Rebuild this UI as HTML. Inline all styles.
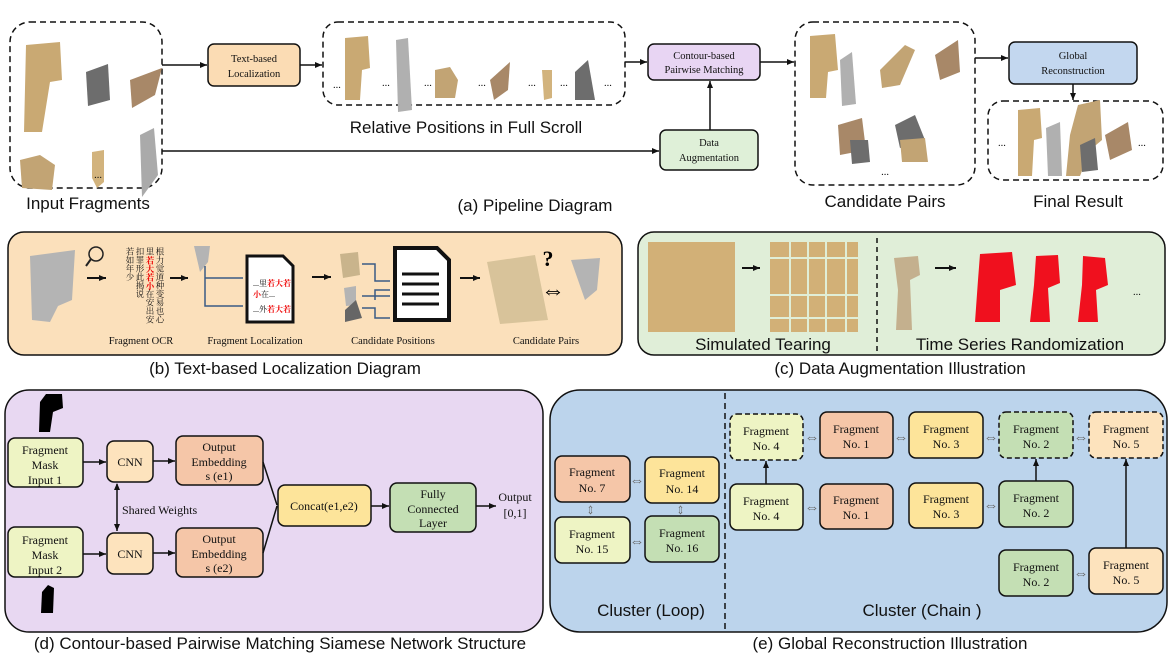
<!DOCTYPE html>
<html><head><meta charset="utf-8"><style>
html,body{margin:0;padding:0;background:#fff;}
svg{display:block;}
text{font-family:"Liberation Serif","Noto Serif CJK SC",serif;}
.cap{font-family:"Liberation Sans","Noto Sans CJK SC",sans-serif;font-size:17px;fill:#111;}
.bx{font-size:12px;fill:#111;}
.sm{font-size:10.5px;fill:#111;}
</style></head><body>
<svg width="1173" height="660" viewBox="0 0 1173 660" xmlns="http://www.w3.org/2000/svg">
<defs>
<marker id="a" markerWidth="8" markerHeight="8" refX="7" refY="4" orient="auto" markerUnits="userSpaceOnUse"><path d="M0,1 L7,4 L0,7 z" fill="#111"/></marker>
<marker id="as" markerWidth="8" markerHeight="8" refX="1" refY="4" orient="auto" markerUnits="userSpaceOnUse"><path d="M7,1 L0,4 L7,7 z" fill="#111"/></marker>
</defs>

<!-- ===== (a) Pipeline ===== -->
<rect x="10" y="22" width="152" height="166" rx="20" fill="none" stroke="#111" stroke-width="1.5" stroke-dasharray="6,4"/>
<polygon points="26,45 60,42 62,80 50,82 42,132 24,132" fill="#c9a973"/>
<polygon points="86,72 108,64 110,100 88,106" fill="#6d6d6d"/>
<polygon points="130,80 162,68 155,95 132,108" fill="#a88868"/>
<polygon points="20,160 40,155 55,165 52,190 22,188" fill="#c2a474"/>
<polygon points="92,152 104,150 104,182 97,188 92,178" fill="#d2b37d"/>
<polygon points="140,135 154,128 158,175 142,197" fill="#aaaaaa"/>
<text x="98" y="178" class="sm" text-anchor="middle">...</text>
<text x="88" y="209" class="cap" text-anchor="middle">Input Fragments</text>

<rect x="208" y="44" width="92" height="42" rx="6" fill="#fbdcb4" stroke="#111" stroke-width="1.5"/>
<text x="254" y="62" class="sm" text-anchor="middle">Text-based</text>
<text x="254" y="77" class="sm" text-anchor="middle">Localization</text>
<line x1="162" y1="65" x2="207" y2="65" stroke="#111" stroke-width="1.5" marker-end="url(#a)"/>
<line x1="300" y1="65" x2="322" y2="65" stroke="#111" stroke-width="1.5" marker-end="url(#a)"/>

<rect x="323" y="22" width="302" height="83" rx="15" fill="none" stroke="#111" stroke-width="1.5" stroke-dasharray="6,4"/>
<polygon points="345,38 368,36 370,68 362,70 360,100 345,100" fill="#c9a973"/>
<polygon points="396,40 408,38 412,110 398,112" fill="#b0b0b0"/>
<polygon points="435,70 450,67 458,80 455,98 435,98" fill="#c2a474"/>
<polygon points="490,80 510,62 508,90 494,100" fill="#a88868"/>
<polygon points="542,70 552,70 552,98 544,100" fill="#d2b37d"/>
<polygon points="575,72 588,60 595,100 575,100" fill="#6d6d6d"/>
<text x="333" y="88" class="sm">...</text><text x="382" y="86" class="sm">...</text><text x="424" y="86" class="sm">...</text><text x="478" y="86" class="sm">...</text><text x="528" y="86" class="sm">...</text><text x="560" y="86" class="sm">...</text><text x="604" y="86" class="sm">...</text>
<text x="466" y="133" class="cap" text-anchor="middle">Relative Positions in Full Scroll</text>

<line x1="625" y1="62" x2="647" y2="62" stroke="#111" stroke-width="1.5" marker-end="url(#a)"/>
<rect x="648" y="44" width="112" height="36" rx="6" fill="#e8d5f3" stroke="#111" stroke-width="1.5"/>
<text x="704" y="59" class="sm" text-anchor="middle">Contour-based</text>
<text x="704" y="73" class="sm" text-anchor="middle">Pairwise Matching</text>
<line x1="760" y1="62" x2="794" y2="62" stroke="#111" stroke-width="1.5" marker-end="url(#a)"/>

<line x1="162" y1="151" x2="659" y2="151" stroke="#111" stroke-width="1.5" marker-end="url(#a)"/>
<rect x="660" y="130" width="98" height="40" rx="6" fill="#dff0d8" stroke="#111" stroke-width="1.5"/>
<text x="709" y="146" class="sm" text-anchor="middle">Data</text>
<text x="709" y="161" class="sm" text-anchor="middle">Augmentation</text>
<line x1="710" y1="130" x2="710" y2="81" stroke="#111" stroke-width="1.5" marker-end="url(#a)"/>
<text x="535" y="211" class="cap" text-anchor="middle">(a) Pipeline Diagram</text>

<rect x="795" y="22" width="180" height="163" rx="18" fill="none" stroke="#111" stroke-width="1.5" stroke-dasharray="6,4"/>
<polygon points="810,36 835,34 838,70 828,72 826,98 810,98" fill="#c9a973"/>
<polygon points="840,60 852,52 856,104 842,106" fill="#b0b0b0"/>
<polygon points="880,70 905,45 915,50 900,85 882,88" fill="#c2a474"/>
<polygon points="935,55 958,40 960,72 940,80" fill="#a88868"/>
<polygon points="838,125 862,118 866,150 840,155" fill="#a88868"/>
<polygon points="850,140 868,140 870,162 852,164" fill="#6d6d6d"/>
<polygon points="895,125 915,115 925,140 900,148" fill="#6d6d6d"/>
<polygon points="900,140 925,138 928,162 902,162" fill="#c2a474"/>
<text x="885" y="175" class="sm" text-anchor="middle">...</text>
<text x="885" y="207" class="cap" text-anchor="middle">Candidate Pairs</text>

<line x1="975" y1="58" x2="1008" y2="58" stroke="#111" stroke-width="1.5" marker-end="url(#a)"/>
<rect x="1009" y="42" width="128" height="42" rx="6" fill="#c3d7ef" stroke="#111" stroke-width="1.5"/>
<text x="1073" y="59" class="sm" text-anchor="middle">Global</text>
<text x="1073" y="74" class="sm" text-anchor="middle">Reconstruction</text>
<line x1="1073" y1="84" x2="1073" y2="100" stroke="#111" stroke-width="1.5" marker-end="url(#a)"/>
<rect x="988" y="101" width="175" height="79" rx="15" fill="none" stroke="#111" stroke-width="1.5" stroke-dasharray="6,4"/>
<polygon points="1018,110 1040,108 1042,138 1034,140 1032,176 1018,176" fill="#c9a973"/>
<polygon points="1046,128 1060,122 1062,176 1048,176" fill="#b0b0b0"/>
<polygon points="1078,105 1100,100 1102,140 1090,150 1080,176 1066,176 1070,135" fill="#c2a474"/>
<polygon points="1080,145 1095,138 1098,170 1082,172" fill="#6d6d6d"/>
<polygon points="1105,135 1128,122 1132,150 1110,160" fill="#a88868"/>
<text x="998" y="146" class="sm">...</text><text x="1138" y="146" class="sm">...</text>
<text x="1078" y="207" class="cap" text-anchor="middle">Final Result</text>

<!-- ===== (b) ===== -->
<rect x="8" y="232" width="614" height="123" rx="16" fill="#fbe0bb" stroke="#111" stroke-width="1.5"/>
<polygon points="30,256 75,250 72,300 58,306 50,322 32,320" fill="#b4b4b4"/>
<circle cx="96" cy="254" r="7" fill="none" stroke="#222" stroke-width="1.5"/><line x1="91" y1="259" x2="86" y2="266" stroke="#222" stroke-width="2"/>
<line x1="87" y1="278" x2="106" y2="278" stroke="#111" stroke-width="2" marker-end="url(#a)"/>
<g font-size="8.5" fill="#111" font-family="'Noto Sans CJK SC',sans-serif">
<text x="160" y="247" writing-mode="tb">根力觉道种变易也心</text>
<text x="150" y="247" writing-mode="tb">里<tspan fill="#e00" font-weight="bold">若大若小</tspan>在安出安</text>
<text x="140" y="247" writing-mode="tb">扣罪形此揭说</text>
<text x="130" y="247" writing-mode="tb">若如年少</text>
</g>
<line x1="170" y1="278" x2="188" y2="278" stroke="#111" stroke-width="2" marker-end="url(#a)"/>
<polygon points="194,246 210,246 208,262 200,272" fill="#b4b4b4"/>
<path d="M205,266 V306 H243 M205,278 H243" fill="none" stroke="#3b5b85" stroke-width="1.5"/>
<path d="M247,256 H283 L293,266 V322 H247 Z" fill="#fff" stroke="#111" stroke-width="3"/>
<text x="253" y="286" font-size="8" font-family="'Noto Sans CJK SC',sans-serif">...里<tspan fill="#e00" font-weight="bold">若大若</tspan></text>
<text x="253" y="297" font-size="8" fill="#e00" font-weight="bold" font-family="'Noto Sans CJK SC',sans-serif">小<tspan fill="#111" font-weight="normal">在...</tspan></text>
<text x="253" y="312" font-size="8" font-family="'Noto Sans CJK SC',sans-serif">...外<tspan fill="#e00" font-weight="bold">若大若</tspan></text>
<line x1="312" y1="277" x2="331" y2="277" stroke="#111" stroke-width="2" marker-end="url(#a)"/>
<polygon points="340,254 358,252 360,275 343,278" fill="#c9b48c"/>
<polygon points="344,288 356,286 356,305 346,306" fill="#b4b4b4"/>
<polygon points="345,310 356,300 362,318 345,322" fill="#666"/>
<path d="M362,264 H375 V281 H390 M362,296 H390 M362,308 H375 V318 H390 M375,300 V290 H390" fill="none" stroke="#3b5b85" stroke-width="1.5"/>
<path d="M395,248 H437 L449,260 V320 H395 Z" fill="#fff" stroke="#111" stroke-width="4"/>
<line x1="402" y1="274" x2="439" y2="274" stroke="#111" stroke-width="3"/><line x1="402" y1="284" x2="439" y2="284" stroke="#111" stroke-width="3"/><line x1="402" y1="294" x2="439" y2="294" stroke="#111" stroke-width="3"/><line x1="402" y1="304" x2="439" y2="304" stroke="#111" stroke-width="3"/>
<line x1="460" y1="278" x2="480" y2="278" stroke="#111" stroke-width="2" marker-end="url(#a)"/>
<polygon points="487,262 535,255 548,320 500,324" fill="#d8c39a"/>
<text x="548" y="266" font-size="22" font-weight="bold" text-anchor="middle" font-family="'Liberation Sans',sans-serif">?</text>
<text x="553" y="298" font-size="24" text-anchor="middle" font-family="'DejaVu Sans',sans-serif">⇔</text>
<polygon points="571,260 600,258 597,290 585,300" fill="#b4b4b4"/>
<text x="141" y="344" class="sm" text-anchor="middle">Fragment OCR</text>
<text x="255" y="344" class="sm" text-anchor="middle">Fragment Localization</text>
<text x="393" y="344" class="sm" text-anchor="middle">Candidate Positions</text>
<text x="546" y="344" class="sm" text-anchor="middle">Candidate Pairs</text>
<text x="285" y="374" class="cap" text-anchor="middle">(b) Text-based Localization Diagram</text>

<!-- ===== (c) ===== -->
<rect x="638" y="232" width="527" height="123" rx="16" fill="#e0eed8" stroke="#111" stroke-width="1.5"/>
<rect x="648" y="242" width="87" height="90" fill="#d2b077"/>
<line x1="742" y1="268" x2="760" y2="268" stroke="#111" stroke-width="2" marker-end="url(#a)"/>
<rect x="770" y="242" width="88" height="90" fill="#d2b077"/>
<path d="M770,258 H858 M770,295 H858 M770,318 H858 M790,242 V332 M808,242 V332 M826,242 V332 M846,242 V332" stroke="#e0eed8" stroke-width="2" fill="none"/>
<line x1="877" y1="238" x2="877" y2="352" stroke="#111" stroke-width="1.5" stroke-dasharray="5,4"/>
<polygon points="894,258 918,256 920,275 910,280 912,330 896,330 898,290" fill="#c4b08e"/>
<line x1="935" y1="268" x2="956" y2="268" stroke="#111" stroke-width="2" marker-end="url(#a)"/>
<polygon points="980,254 1012,252 1016,285 1000,290 1000,322 975,322 978,280" fill="#f0101e"/>
<polygon points="1036,256 1058,255 1060,283 1048,288 1050,322 1030,322 1034,285" fill="#f0101e"/>
<polygon points="1083,256 1105,258 1108,285 1096,290 1098,322 1078,322 1082,285" fill="#f0101e"/>
<text x="1133" y="295" class="sm">...</text>
<text x="763" y="350" class="cap" text-anchor="middle">Simulated Tearing</text>
<text x="1020" y="350" class="cap" text-anchor="middle">Time Series Randomization</text>
<text x="900" y="374" class="cap" text-anchor="middle">(c) Data Augmentation Illustration</text>

<!-- ===== (d) ===== -->
<rect x="5" y="390" width="538" height="242" rx="24" fill="#e8d8f2" stroke="#111" stroke-width="1.5"/>
<polygon points="39,432 40,402 46,394 62,394 63,408 53,412 50,432" fill="#000"/>
<polygon points="41,613 42,592 48,585 54,588 53,613" fill="#000"/>
<g stroke="#111" stroke-width="1.5">
<rect x="8" y="438" width="75" height="49" rx="7" fill="#eef4c4"/>
<rect x="107" y="441" width="46" height="41" rx="7" fill="#fde3bd"/>
<rect x="176" y="436" width="87" height="49" rx="7" fill="#f5c6a8"/>
<rect x="8" y="527" width="75" height="50" rx="7" fill="#eef4c4"/>
<rect x="107" y="533" width="46" height="41" rx="7" fill="#fde3bd"/>
<rect x="176" y="528" width="87" height="49" rx="7" fill="#f5c6a8"/>
<rect x="278" y="485" width="93" height="41" rx="7" fill="#fde49a"/>
<rect x="390" y="483" width="86" height="49" rx="7" fill="#c4dfb4"/>
<line x1="83" y1="462" x2="106" y2="462" marker-end="url(#a)"/>
<line x1="153" y1="461" x2="175" y2="461" marker-end="url(#a)"/>
<line x1="83" y1="554" x2="106" y2="554" marker-end="url(#a)"/>
<line x1="153" y1="553" x2="175" y2="553" marker-end="url(#a)"/>
<line x1="263" y1="462" x2="277" y2="505"/>
<line x1="263" y1="553" x2="277" y2="506"/>
<line x1="371" y1="506" x2="389" y2="506" marker-end="url(#a)"/>
<line x1="476" y1="506" x2="496" y2="506" marker-end="url(#a)"/>
<line x1="117" y1="484" x2="117" y2="531" marker-end="url(#a)" marker-start="url(#as)"/>
</g>
<g text-anchor="middle">
<text x="45" y="454" class="bx">Fragment</text><text x="45" y="469" class="bx">Mask</text><text x="45" y="484" class="bx">Input 1</text>
<text x="45" y="544" class="bx">Fragment</text><text x="45" y="559" class="bx">Mask</text><text x="45" y="574" class="bx">Input 2</text>
<text x="130" y="466" class="bx">CNN</text><text x="130" y="558" class="bx">CNN</text>
<text x="219" y="451" class="bx">Output</text><text x="219" y="466" class="bx">Embedding</text><text x="219" y="480" class="bx">s (e1)</text>
<text x="219" y="543" class="bx">Output</text><text x="219" y="558" class="bx">Embedding</text><text x="219" y="572" class="bx">s (e2)</text>
<text x="324" y="510" class="bx">Concat(e1,e2)</text>
<text x="433" y="498" class="bx">Fully</text><text x="433" y="513" class="bx">Connected</text><text x="433" y="527" class="bx">Layer</text>
<text x="515" y="501" class="bx">Output</text><text x="515" y="517" class="bx">[0,1]</text>
</g>
<text x="122" y="514" class="bx" font-size="11">Shared Weights</text>
<text x="280" y="649" class="cap" text-anchor="middle">(d) Contour-based Pairwise Matching Siamese Network Structure</text>

<!-- ===== (e) ===== -->
<rect x="550" y="390" width="617" height="242" rx="30" fill="#bcd4ec" stroke="#111" stroke-width="1.5"/>
<line x1="725" y1="393" x2="725" y2="630" stroke="#111" stroke-width="1.5" stroke-dasharray="6,4"/>
<g stroke="#111" stroke-width="1.5">
<rect x="555" y="456" width="75" height="46" rx="7" fill="#f5c6a8"/>
<rect x="645" y="457" width="74" height="46" rx="7" fill="#fde49a"/>
<rect x="555" y="517" width="75" height="46" rx="7" fill="#eef4c4"/>
<rect x="645" y="516" width="74" height="46" rx="7" fill="#c4dfb4"/>
<rect x="730" y="414" width="73" height="46" rx="7" fill="#eef4c4" stroke-dasharray="5,3"/>
<rect x="820" y="412" width="73" height="46" rx="7" fill="#f5c6a8"/>
<rect x="909" y="412" width="74" height="46" rx="7" fill="#fde49a"/>
<rect x="999" y="412" width="74" height="46" rx="7" fill="#c4dfb4" stroke-dasharray="5,3"/>
<rect x="1089" y="412" width="74" height="46" rx="7" fill="#fde3bd" stroke-dasharray="5,3"/>
<rect x="730" y="484" width="73" height="46" rx="7" fill="#eef4c4"/>
<rect x="820" y="484" width="73" height="45" rx="7" fill="#f5c6a8"/>
<rect x="909" y="483" width="74" height="45" rx="7" fill="#fde49a"/>
<rect x="999" y="481" width="74" height="46" rx="7" fill="#c4dfb4"/>
<rect x="999" y="550" width="74" height="46" rx="7" fill="#c4dfb4"/>
<rect x="1089" y="548" width="74" height="46" rx="7" fill="#fde3bd"/>
<line x1="766" y1="484" x2="766" y2="461" marker-end="url(#a)"/>
<line x1="1036" y1="481" x2="1036" y2="459" marker-end="url(#a)"/>
<line x1="1126" y1="548" x2="1126" y2="459" marker-end="url(#a)"/>
</g>
<g font-size="15" fill="#666" font-family="'DejaVu Sans',sans-serif" text-anchor="middle">
<text x="637" y="485">⇔</text><text x="637" y="546">⇔</text>
<text x="592" y="515" transform="rotate(90 592 510)">⇔</text><text x="682" y="515" transform="rotate(90 682 510)">⇔</text>
<text x="812" y="442">⇔</text><text x="901" y="442">⇔</text><text x="991" y="442">⇔</text><text x="1081" y="442">⇔</text>
<text x="812" y="512">⇔</text><text x="991" y="510">⇔</text><text x="1081" y="578">⇔</text>
</g>
<g text-anchor="middle">
<text x="592" y="476" class="bx">Fragment</text><text x="592" y="492" class="bx">No. 7</text>
<text x="682" y="477" class="bx">Fragment</text><text x="682" y="493" class="bx">No. 14</text>
<text x="592" y="538" class="bx">Fragment</text><text x="592" y="553" class="bx">No. 15</text>
<text x="682" y="537" class="bx">Fragment</text><text x="682" y="552" class="bx">No. 16</text>
<text x="766" y="435" class="bx">Fragment</text><text x="766" y="450" class="bx">No. 4</text>
<text x="856" y="433" class="bx">Fragment</text><text x="856" y="448" class="bx">No. 1</text>
<text x="946" y="433" class="bx">Fragment</text><text x="946" y="448" class="bx">No. 3</text>
<text x="1036" y="433" class="bx">Fragment</text><text x="1036" y="448" class="bx">No. 2</text>
<text x="1126" y="433" class="bx">Fragment</text><text x="1126" y="448" class="bx">No. 5</text>
<text x="766" y="505" class="bx">Fragment</text><text x="766" y="520" class="bx">No. 4</text>
<text x="856" y="504" class="bx">Fragment</text><text x="856" y="519" class="bx">No. 1</text>
<text x="946" y="503" class="bx">Fragment</text><text x="946" y="518" class="bx">No. 3</text>
<text x="1036" y="502" class="bx">Fragment</text><text x="1036" y="517" class="bx">No. 2</text>
<text x="1036" y="571" class="bx">Fragment</text><text x="1036" y="586" class="bx">No. 2</text>
<text x="1126" y="569" class="bx">Fragment</text><text x="1126" y="584" class="bx">No. 5</text>
</g>
<text x="651" y="616" class="cap" text-anchor="middle">Cluster (Loop)</text>
<text x="922" y="616" class="cap" text-anchor="middle">Cluster (Chain )</text>
<text x="890" y="649" class="cap" text-anchor="middle">(e) Global Reconstruction Illustration</text>
</svg>
</body></html>
